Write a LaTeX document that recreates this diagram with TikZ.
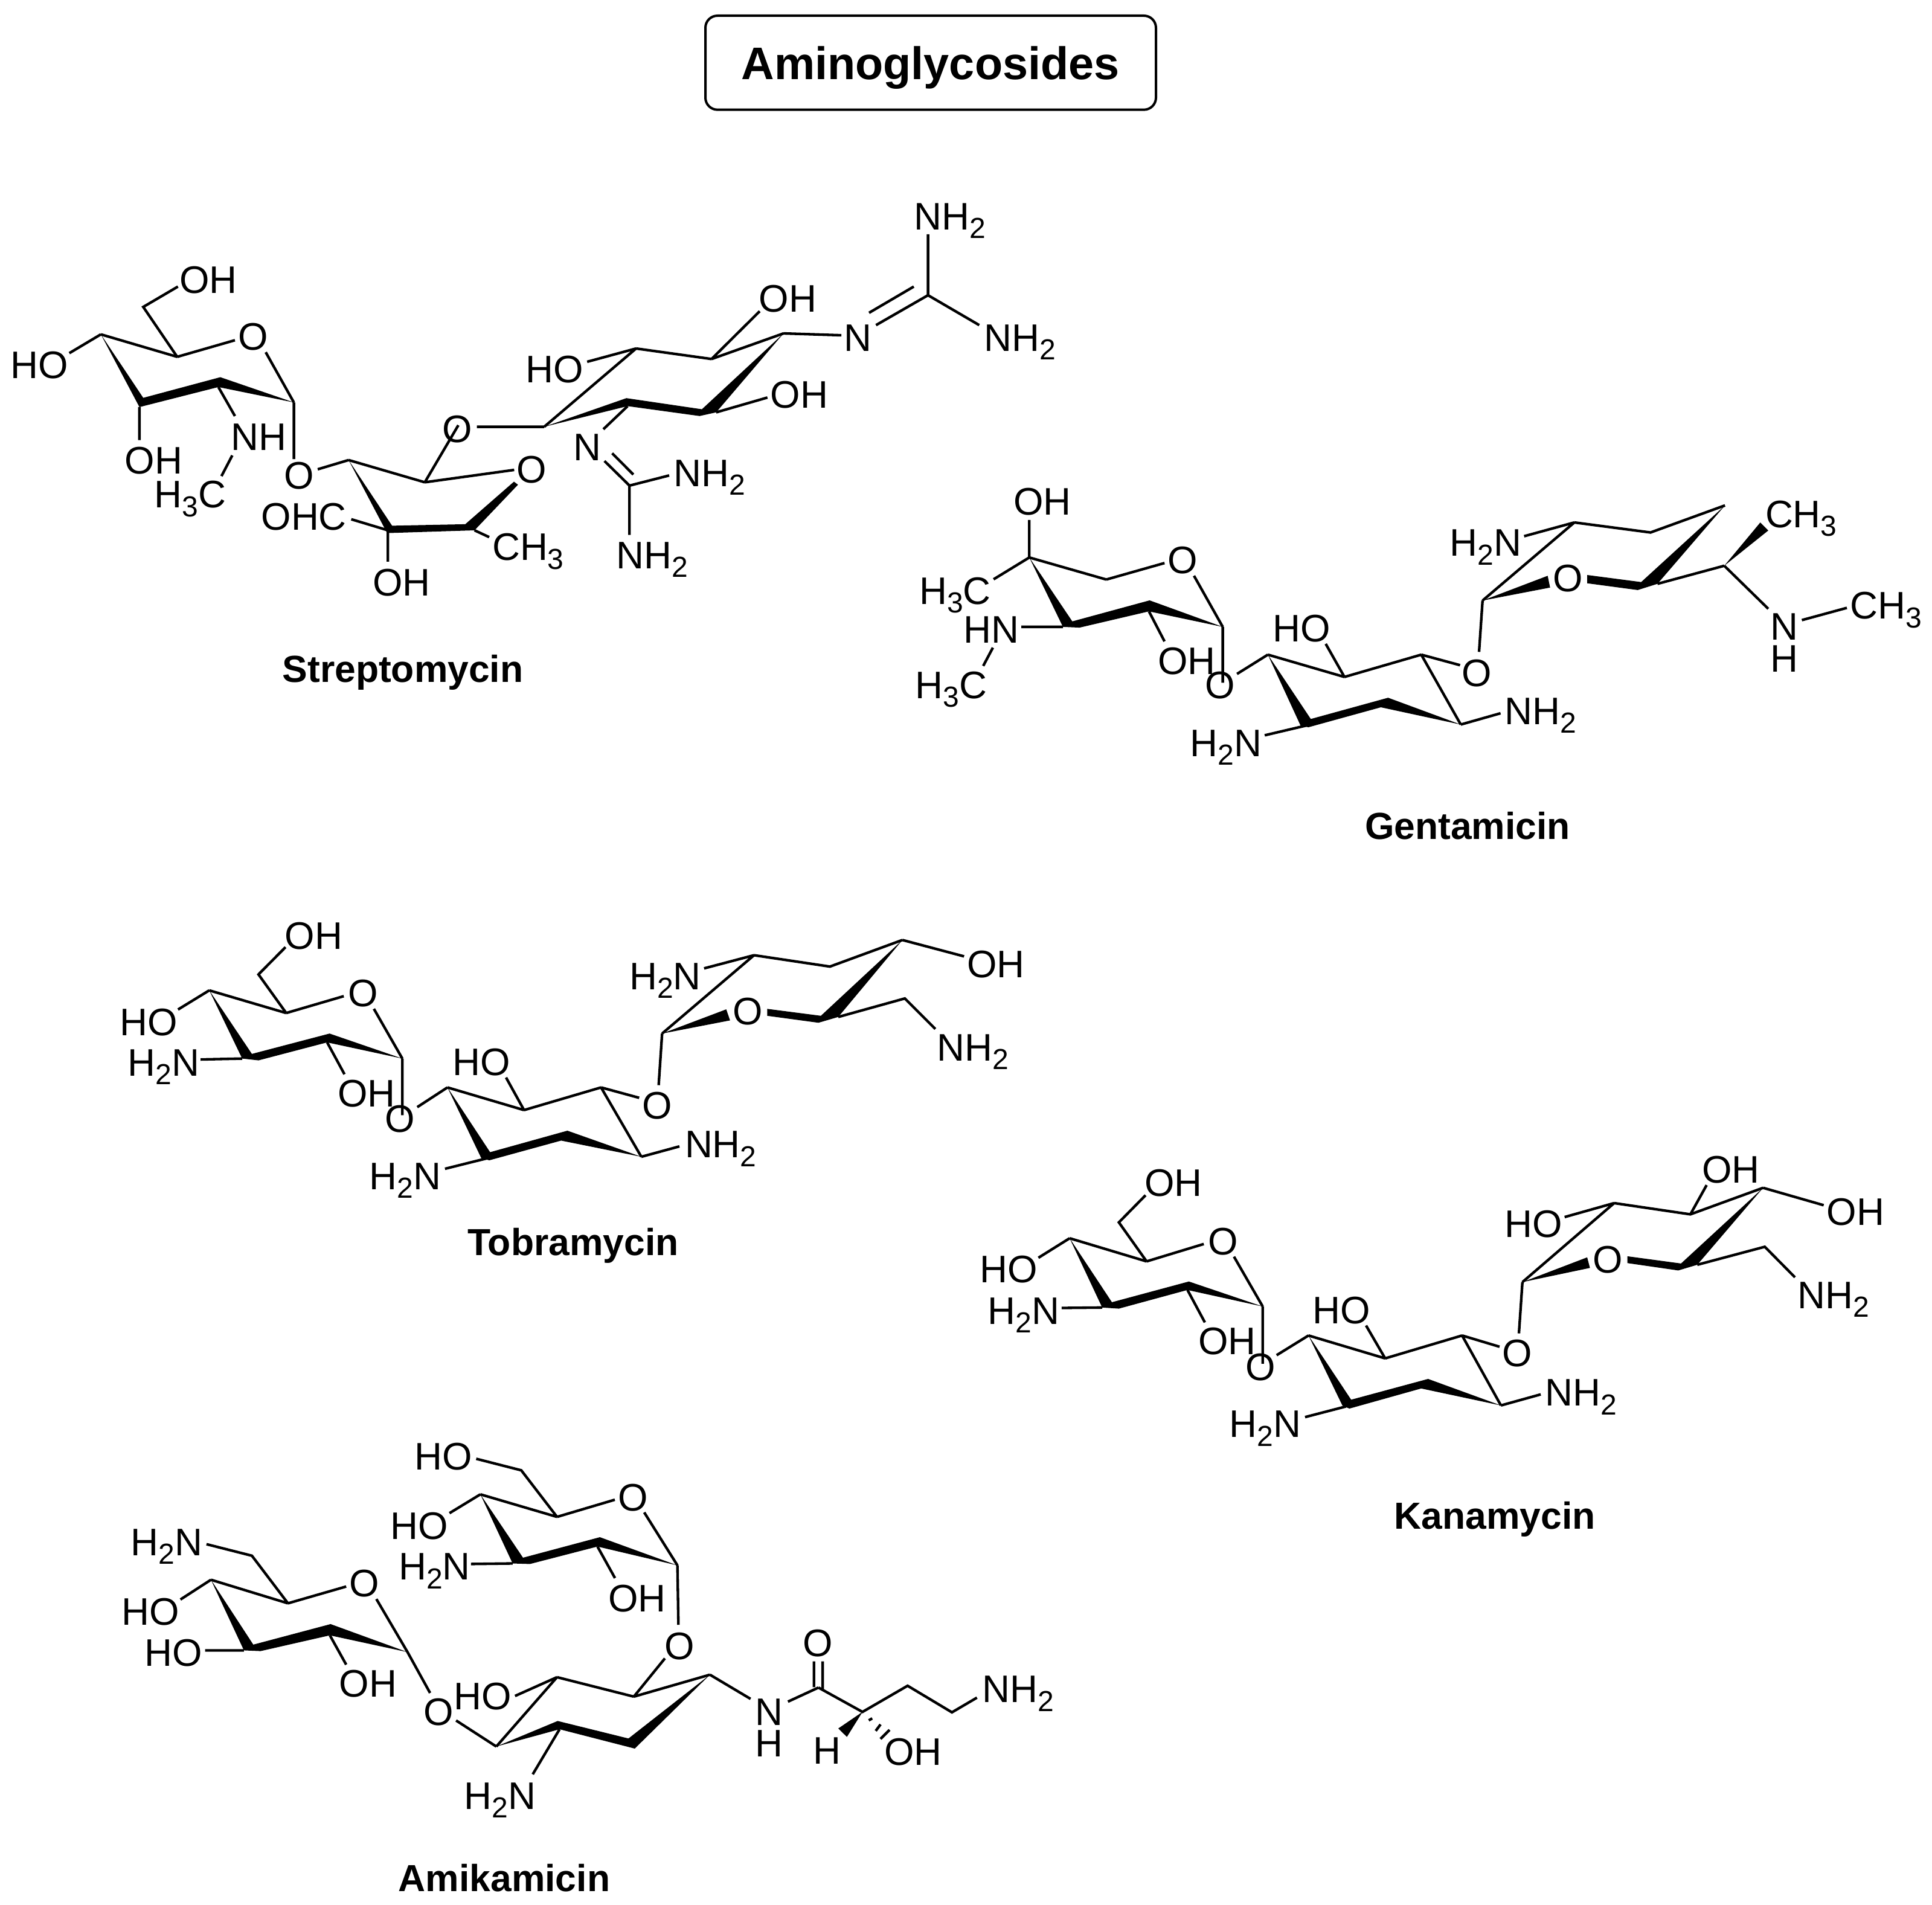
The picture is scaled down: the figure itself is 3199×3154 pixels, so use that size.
\documentclass[tikz,border=0pt]{standalone}
\usepackage{fontspec}
\setmainfont{Liberation Sans}
\newcommand{\sbs}[1]{\raisebox{-3.6pt}{\fontsize{12}{12}\selectfont #1}}
\newcommand{\pts}[1]{\foreach \n/\x/\y in {#1} \coordinate (\n) at (\x,\y);}
\tikzset{
  bond/.style={line width=1.08pt,line cap=butt,line join=miter,black},
  solidwedge/.style={fill=black,draw=none},
  atom/.style={anchor=base,inner sep=0pt,outer sep=0pt,yshift=-0.4pt,font=\fontsize{15.9}{15.9}\selectfont,text=black},
  drugname/.style={anchor=base,inner sep=0pt,yshift=-0.9pt,font=\fontsize{15.6}{15.6}\selectfont\bfseries,text=black},
  titlebox/.style={draw=black,line width=1pt,rounded corners=5pt,fill=white}
}
\begin{document}
\begin{tikzpicture}[x=0.25pt,y=-0.25pt]
\useasboundingbox (0,0) rectangle (3199,3154);
\fill[white] (0,0) rectangle (3199,3154);

% Title
\coordinate (tl) at (1168,26); \coordinate (br) at (1914,181.7);
\draw[titlebox] (tl) rectangle (br);
\node[anchor=base,inner sep=0pt,font=\fontsize{18.9}{18.9}\selectfont\bfseries] (title) at (1540.5,131.7) {Aminoglycosides};

% ---------- Streptomycin ----------
\begin{scope}[name prefix=s-]
\pts{a/167/553.6,b/293.4/590.8,c/486.6/666.3,d/237.2/508.2,d1/294.6/474.5,b1/389/563.3,c1/440/583.2,a1/114.8/584.7,
 p1/237.2/658.7,p2/364.8/624.5,p3/361.6/640.8,p4/230.9/674,
 q1/230.9/728.6,r1/389/688.8,r2/384.6/754,r3/366.7/788.3,c2/486.6/760.2,e1/526.1/777,
 f/577.2/761.7,g/703.4/798.5,g1/851.4/778,
 u1/649.2/870.4,u2/770.4/867.9,u3/851/797.5,u4/857.7/802.5,u5/785.7/878,u6/641/882.6,
 m1/810/889.3,m2/642.2/879,m3/642.2/930,m4/581.6/859.7,m5/641/877.6,g2/758.9/704,h1/789.5/706.6,
 h/901.1/706.6,i/1053.2/577,j/1178.2/594.4,k/1297.4/552,
 v1/1037.2/659.2,v2/1162.2/677.6,v3/1185.8/682.7,v4/1158.4/688.8,v5/1039.2/672.4,
 i1/972.2/599,j1/1257.9/515.3,v6/1270.7/658.2,k1/1393.1/555.1,
 l/1536.6/488.8,l1/1450.5/538.3,l2/1439/517.9,l3/1513/474.5,l4/1536.6/387.8,l5/1621.4/538.3,
 n1/999/710.7,n/1042.3/804,n2/1000.9/763.3,n3/1013.6/750.5,n4/1048.7/785.7,n5/1108/787.2,n6/1042.3/885.7}
\fill[solidwedge] (a)--(p1)--(p2)--(c)--(p3)--(p4)--cycle;
\fill[solidwedge] (f)--(u1)--(u2)--(u3)--(u4)--(u5)--(u6)--cycle;
\fill[solidwedge] (h)--(v1)--(v2)--(k)--(v3)--(v4)--(v5)--cycle;
\draw[bond] (a)--(b) (b)--(b1) (c1)--(c) (b)--(d)--(d1) (a1)--(a) (p4)--(q1) (p3)--(r1) (r2)--(r3) (c)--(c2)
 (e1)--(f) (f)--(g) (g)--(g1) (u5)--(m1) (m2)--(m3) (m4)--(m5) (g)--(g2) (h1)--(h)
 (h)--(i) (i)--(j) (j)--(k) (i1)--(i) (j)--(j1) (v3)--(v6) (k)--(k1)
 (l1)--(l) (l2)--(l3) (l)--(l4) (l)--(l5) (v5)--(n1) (n2)--(n) (n3)--(n4) (n)--(n5) (n)--(n6);
\node[atom] (o1) at (345,483.7) {OH};
\node[atom] (o2) at (419.6,578) {O};
\node[atom] (o3) at (65,625) {HO};
\node[atom] (o4) at (254.5,783.2) {OH};
\node[atom] (nh) at (428.6,743.9) {NH};
\node[atom] (me1) at (315,839) {H\sbs{3}C};
\node[atom] (o5) at (495.5,807.6) {O};
\node[atom] (o6) at (880.7,797.5) {O};
\node[atom] (ch3) at (874.4,926) {CH\sbs{3}};
\node[atom] (o7) at (664.7,985.2) {OH};
\node[atom] (ohc) at (503.2,875.5) {OHC};
\node[atom] (o8) at (757.7,731) {O};
\node[atom] (o9) at (918.6,631.6) {HO};
\node[atom] (o10) at (1304.5,514.8) {OH};
\node[atom] (o11) at (1323.6,673.5) {OH};
\node[atom] (n7) at (1420.5,580) {N};
\node[atom] (n8) at (1573,379) {NH\sbs{2}};
\node[atom] (n9) at (1689,580) {NH\sbs{2}};
\node[atom] (n10) at (972.8,760.7) {N};
\node[atom] (n11) at (1174.4,804) {NH\sbs{2}};
\node[atom] (n12) at (1080,939.8) {NH\sbs{2}};
\node[drugname] (nm) at (667,1126) {Streptomycin};
\end{scope}

% ---------- Gentamicin ----------
\begin{scope}[name prefix=g-]
\pts{a/1704.3/923,a1/1704.3/860.8,a2/1645.2/959.1,b/1831.8/959.5,b1/1928.2/932.2,c1/1977/953.3,c/2024.6/1037.9,
 p1/1775.5/1028.8,p2/1903.5/994,p3/1902.4/1012.2,p4/1787.5/1039.1,p5/1760/1037.9,
 h1/1691.1/1037.9,h2/1644/1072.3,h3/1628/1102.5,h4/1928.2/1061.9,c2/2024.6/1130.3,e1/2048.2/1115.8,
 d/2099.3/1083.9,e/2226.1/1120.8,e2/2195.1/1066,f/2353.3/1083.9,gg/2418.7/1199.6,
 q1/2170.4/1190.4,q2/2298.4/1155.2,q3/2286.4/1171,q4/2166.4/1204.1,q5/2153.2/1200.8,
 t1/2094.1/1217.4,t2/2164.7/1200.8,f1/2417.5/1101.3,f2/2449/1079.3,hh/2454.8/994.3,i/2606.8/865,
 w1/2562.6/953.3,w2/2566.6/972.8,
 x1/2628/952,x2/2717.4/963.7,k/2856.2/836.8,x3/2744.4/966.6,x4/2711.7/976.9,x5/2628/965.7,
 i1/2732.9/881.6,l/2855/936.7,y1/2914.7/865,y2/2927.9/878.3,i2/2523.6/887.8,l1/2927.9/1008,
 z1/2983.5/1026.7,z2/3058/1006.4,g1/2484.6/1180.9}
\fill[solidwedge] (a)--(p1)--(p2)--(c)--(p3)--(p4)--(p5)--cycle;
\fill[solidwedge] (d)--(q1)--(q2)--(gg)--(q3)--(q4)--(q5)--cycle;
\fill[solidwedge] (hh)--(w1)--(w2)--cycle;
\fill[solidwedge] (x1)--(x2)--(k)--(x3)--(x4)--(x5)--cycle;
\fill[solidwedge] (l)--(y1)--(y2)--cycle;
\draw[bond] (a)--(a1) (a)--(a2) (a)--(b) (b)--(b1) (c1)--(c) (h1)--(p5) (h2)--(h3) (p3)--(h4) (c)--(c2) (e1)--(d)
 (d)--(e) (e)--(e2) (e)--(f) (f)--(gg) (f)--(f1) (f2)--(hh) (hh)--(i) (t1)--(t2)
 (i)--(i1)--(k) (x3)--(l) (i2)--(i) (l)--(l1) (z1)--(z2) (gg)--(g1);
\node[atom] (o1) at (1726,851.3) {OH};
\node[atom] (me1) at (1581.5,998.5) {H\sbs{3}C};
\node[atom] (o2) at (1958,947.9) {O};
\node[atom] (hn) at (1641.2,1062.8) {HN};
\node[atom] (me2) at (1575.1,1154.4) {H\sbs{3}C};
\node[atom] (o3) at (1965,1114.6) {OH};
\node[atom] (o4) at (2020.6,1155.2) {O};
\node[atom] (o5) at (2155,1061.1) {HO};
\node[atom] (n1) at (2029.8,1250.6) {H\sbs{2}N};
\node[atom] (o6) at (2445.6,1134.5) {O};
\node[atom] (o7) at (2596.4,978.2) {O};
\node[atom] (ch3) at (2982.3,872) {CH\sbs{3}};
\node[atom] (n2) at (2460,919.3) {H\sbs{2}N};
\node[atom] (n3) at (2954.2,1057.8) {N};
\node[atom] (h3) at (2954.2,1110.9) {H};
\node[atom] (me3) at (3122.8,1023) {CH\sbs{3}};
\node[atom] (n4) at (2551,1197.9) {NH\sbs{2}};
\node[drugname] (nm) at (2430,1386) {Gentamicin};
\end{scope}

% ---------- Tobramycin ----------
\begin{scope}[name prefix=t-]
\pts{a/346.5/1639.7,b/473.9/1677.2,d/428/1613.3,d1/472.8/1568.1,b1/569.2/1649.3,c1/619.1/1670.3,c/666.2/1752.6,a1/294.8/1671.4,
 p1/417.1/1744.9,p2/545.7/1711.2,p3/541.7/1725.8,p4/428/1755.6,p5/401/1752.6,
 h1/332.1/1754.1,h2/570.4/1778.6,c2/666.2/1846.3,e1/690.9/1833,
 dd/740.9/1800.4,e/867.7/1837.9,f/995.2/1800.4,e2/837.9/1784,f1/1058.3/1817.6,gg/1061.9/1915.2,
 q1/811.5/1907.6,q2/939.5/1872,q3/929.1/1888.4,q4/810.3/1921,q5/797.1/1917.9,
 t1/736.8/1935.1,t2/805.7/1917.9,g1/1125/1898,f2/1090.6/1796.6,hh/1096.3/1711.2,i/1248.5/1581.5,
 w1/1202.5/1671.1,w2/1208.8/1689.4,
 x1/1270.3/1670.3,x2/1359.2/1681.8,k/1494.2/1556.3,x3/1388/1683.7,x4/1355.2/1693.3,x5/1270.3/1681.8,
 i1/1374.2/1600.3,k1/1596.3/1583.4,i2/1165.8/1603.3,l/1498.2/1653.1,l1/1548.7/1703.6}
\fill[solidwedge] (a)--(p1)--(p2)--(c)--(p3)--(p4)--(p5)--cycle;
\fill[solidwedge] (dd)--(q1)--(q2)--(gg)--(q3)--(q4)--(q5)--cycle;
\fill[solidwedge] (hh)--(w1)--(w2)--cycle;
\fill[solidwedge] (x1)--(x2)--(k)--(x3)--(x4)--(x5)--cycle;
\draw[bond] (a)--(b) (b)--(d)--(d1) (b)--(b1) (c1)--(c) (a)--(a1) (h1)--(p5) (p3)--(h2) (c)--(c2) (e1)--(dd)
 (dd)--(e) (e)--(f) (e)--(e2) (f)--(f1) (f)--(gg) (t1)--(t2) (gg)--(g1) (f2)--(hh) (hh)--(i)
 (i)--(i1)--(k) (k)--(k1) (i2)--(i) (x3)--(l)--(l1);
\node[atom] (o1) at (519.3,1569.7) {OH};
\node[atom] (o2) at (600.8,1664.6) {O};
\node[atom] (o3) at (246,1712.4) {HO};
\node[atom] (n1) at (270.7,1779.4) {H\sbs{2}N};
\node[atom] (o4) at (607.1,1831) {OH};
\node[atom] (o5) at (662.2,1873.1) {O};
\node[atom] (o6) at (797.1,1778.6) {HO};
\node[atom] (o7) at (1088.3,1851.3) {O};
\node[atom] (n2) at (670.8,1967.7) {H\sbs{2}N};
\node[atom] (n3) at (1193.3,1915.2) {NH\sbs{2}};
\node[atom] (o8) at (1238.7,1695.2) {O};
\node[atom] (o9) at (1649.1,1616.7) {OH};
\node[atom] (n4) at (1101.5,1636.6) {H\sbs{2}N};
\node[atom] (n5) at (1610.7,1754.5) {NH\sbs{2}};
\node[drugname] (nm) at (949,2075) {Tobramycin};
\end{scope}

% ---------- Kanamycin ----------
\begin{scope}[name prefix=k-]
\pts{a/1771.1/2050.1,b/1898.5/2088.4,d/1852.6/2023.8,d1/1896.8/1978.9,b1/1993.2/2059.6,c1/2043.2/2080.6,c/2090.8/2163.1,a1/1719.4/2082.4,
 p1/1841.1/2156,p2/1968.5/2121.7,p3/1966.2/2135.7,p4/1852.6/2166.6,p5/1825/2164.8,
 h1/1757.9/2165.5,h2/1995/2189.4,c2/2090.8/2257.8,e1/2113.8/2243.7,
 dd/2166.6/2211.1,e/2293.5/2249,f/2420.9/2211.1,e2/2261.9/2194.6,f1/2482.9/2229.7,gg/2485.2/2326.9,
 q1/2237.2/2317.4,q2/2364.6/2283,q3/2353.2/2298.8,q4/2234.3/2332.1,q5/2222.8/2327.2,
 t1/2160.9/2346.2,t2/2228.6/2328.6,g1/2551.1/2308.6,f2/2515/2207.6,hh/2520.8/2122.7,i/2672.7/1991.9,
 w1/2628/2081.7,w2/2632.6/2099.2,
 x1/2694.5/2079.9,x2/2783.4/2091.9,k/2919.3/1966.6,x3/2810.3/2094,x4/2778.8/2103.4,x5/2694.5/2091.2,
 i1/2798.9/2010.5,i2/2590.7/2015,i3/2825.8/1962.1,k1/3019.6/1995.4,l/2922.1/2064.2,l1/2972/2114.7}
\fill[solidwedge] (a)--(p1)--(p2)--(c)--(p3)--(p4)--(p5)--cycle;
\fill[solidwedge] (dd)--(q1)--(q2)--(gg)--(q3)--(q4)--(q5)--cycle;
\fill[solidwedge] (hh)--(w1)--(w2)--cycle;
\fill[solidwedge] (x1)--(x2)--(k)--(x3)--(x4)--(x5)--cycle;
\draw[bond] (a)--(b) (b)--(d)--(d1) (b)--(b1) (c1)--(c) (a)--(a1) (h1)--(p5) (p3)--(h2) (c)--(c2) (e1)--(dd)
 (dd)--(e) (e)--(f) (e)--(e2) (f)--(f1) (f)--(gg) (t1)--(t2) (gg)--(g1) (f2)--(hh) (hh)--(i)
 (i)--(i1)--(k) (i2)--(i) (i1)--(i3) (k)--(k1) (x3)--(l)--(l1);
\node[atom] (o1) at (1942.7,1979.3) {OH};
\node[atom] (o2) at (2024.8,2075.4) {O};
\node[atom] (o3) at (1670,2122) {HO};
\node[atom] (n1) at (1694.7,2190.4) {H\sbs{2}N};
\node[atom] (o4) at (2031.7,2241.3) {OH};
\node[atom] (o5) at (2086.8,2283.4) {O};
\node[atom] (o6) at (2221.1,2189.4) {HO};
\node[atom] (o7) at (2512.2,2261.3) {O};
\node[atom] (n2) at (2094.8,2378.1) {H\sbs{2}N};
\node[atom] (n3) at (2617.7,2326.2) {NH\sbs{2}};
\node[atom] (o8) at (2662.4,2105.9) {O};
\node[atom] (o9) at (2539.1,2047.3) {HO};
\node[atom] (o10) at (2866,1956.8) {OH};
\node[atom] (o11) at (3072.4,2027) {OH};
\node[atom] (n4) at (3035.7,2164.8) {NH\sbs{2}};
\node[drugname] (nm) at (2475,2528) {Kanamycin};
\end{scope}

% ---------- Amikamicin ----------
\begin{scope}[name prefix=a-]
\pts{a/349.3/2615.5,b/476.8/2654.5,d/417.1/2575.7,d1/341.9/2556.6,b1/573.2/2626.7,c1/623.2/2647.4,c/674.8/2735.3,a1/298.8/2648.2,
 p1/419.4/2722.9,p2/547.4/2688.9,p3/546.2/2707.5,p4/431.4/2733.6,p5/403.9/2732.4,
 h1/339.6/2732.4,h2/573.2/2756,c2/712.1/2802.9,e1/755.2/2848.5,
 dd/821.8/2891.6,e/922.3/2776.8,f/1049.5/2809,gg/1175.5/2772.7,e2/852.8/2807.9,
 q1/923.4/2849.3,q2/1040.6/2878.3,q3/1051/2895,q4/926.5/2863,
 t1/882.1/2937.6,f1/1100.9/2745.7,f2/1123.3/2690,
 at/795.4/2474.1,bt/922.3/2511.4,dt/863.1/2434.3,dt1/788.5/2415.2,bt1/1018/2483,ct1/1066.7/2504,ct/1121.7/2591.7,at1/744.3/2505.2,
 r1/866/2579,r2/993.3/2545,r3/989.3/2560.5,r4/877.5/2589.4,r5/848.8/2588.5,
 s1/779.9/2589.4,s2/1018.3/2612.7,
 g1/1242.7/2812.7,m1/1304.7/2817.3,m/1355.2/2794,
 m2/1347.8/2793.3,m3/1347.8/2750.7,m4/1362.1/2796.7,m5/1362.1/2750.7,
 n/1428.1/2834.3,oo/1502.8/2791,pp/1576.2/2835,pp1/1617.6/2810.7,
 w1/1388/2861.7,w2/1402.3/2875.7,
 y1/1438.5/2848.3,y2/1444.2/2845,y3/1450/2865.7,y4/1458/2855,y5/1458/2879,y6/1472.9/2864}
\fill[solidwedge] (a)--(p1)--(p2)--(c)--(p3)--(p4)--(p5)--cycle;
\fill[solidwedge] (at)--(r1)--(r2)--(ct)--(r3)--(r4)--(r5)--cycle;
\fill[solidwedge] (dd)--(q1)--(q2)--(gg)--(q3)--(q4)--cycle;
\fill[solidwedge] (n)--(w1)--(w2)--cycle;
\draw[bond] (a)--(b) (b)--(d)--(d1) (b)--(b1) (c1)--(c) (a)--(a1) (h1)--(p5) (p3)--(h2) (c)--(c2) (e1)--(dd)
 (e2)--(e) (dd)--(e) (e)--(f) (f)--(gg) (q4)--(t1) (f)--(f1) (f2)--(ct)
 (at)--(bt) (bt)--(dt)--(dt1) (bt)--(bt1) (ct1)--(ct) (at)--(at1) (s1)--(r5) (r3)--(s2)
 (gg)--(g1) (m1)--(m) (m2)--(m3) (m4)--(m5) (m)--(n)--(oo)--(pp)--(pp1)
 (y1)--(y2) (y3)--(y4) (y5)--(y6);
\node[atom] (n1) at (275.9,2573.6) {H\sbs{2}N};
\node[atom] (o1) at (603.1,2642) {O};
\node[atom] (o2) at (248.9,2689.3) {HO};
\node[atom] (o3) at (287.3,2756.5) {HO};
\node[atom] (o4) at (609.4,2808.3) {OH};
\node[atom] (o5) at (726.5,2855.1) {O};
\node[atom] (o6) at (799.4,2828.6) {HO};
\node[atom] (n2) at (828.1,2993.6) {H\sbs{2}N};
\node[atom] (o7) at (1125,2745.7) {O};
\node[atom] (o8) at (734,2431.8) {HO};
\node[atom] (o9) at (1048.3,2500) {O};
\node[atom] (o10) at (694.4,2546.7) {HO};
\node[atom] (n3) at (719.6,2614.2) {H\sbs{2}N};
\node[atom] (o11) at (1054.7,2666.7) {OH};
\node[atom] (n4) at (1273.7,2855) {N};
\node[atom] (h4) at (1273.7,2907.3) {H};
\node[atom] (o12) at (1354.7,2741) {O};
\node[atom] (n5) at (1685.9,2817.3) {NH\sbs{2}};
\node[atom] (h5) at (1369.6,2919.3) {H};
\node[atom] (o13) at (1512,2920.7) {OH};
\node[drugname] (nm) at (835,3128) {Amikamicin};
\end{scope}
\end{tikzpicture}
\end{document}
